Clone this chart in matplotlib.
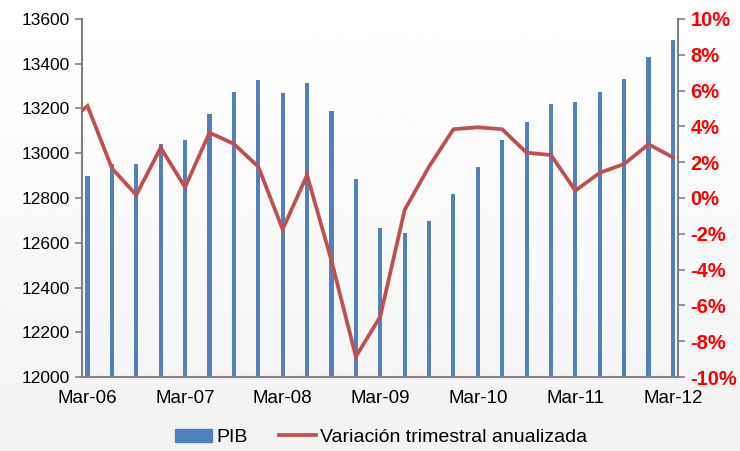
import numpy as np
import matplotlib
matplotlib.use("Agg")
import matplotlib.pyplot as plt
from matplotlib.patches import Patch
from matplotlib.lines import Line2D
from matplotlib.ticker import FuncFormatter

plt.rcParams['font.family'] = ['Liberation Sans', 'DejaVu Sans']

# quarterly data, Mar-06 .. Mar-12 (Dec-05 only for the line start)
quarters = ['Mar-06', 'Jun-06', 'Sep-06', 'Dec-06', 'Mar-07', 'Jun-07', 'Sep-07', 'Dec-07',
            'Mar-08', 'Jun-08', 'Sep-08', 'Dec-08', 'Mar-09', 'Jun-09', 'Sep-09', 'Dec-09',
            'Mar-10', 'Jun-10', 'Sep-10', 'Dec-10', 'Mar-11', 'Jun-11', 'Sep-11', 'Dec-11',
            'Mar-12']
pib = [12898, 12952, 12952, 13041, 13059, 13177, 13275, 13327,
       13268, 13313, 13187, 12886, 12666, 12645, 12697, 12817,
       12940, 13058, 13138, 13220, 13230, 13274, 13332, 13429,
       13505]
var_prev = 4.0   # Dec-05
var_anual = [5.14, 1.66, 0.17, 2.81, 0.6, 3.65, 3.02, 1.75,
             -1.75, 1.28, -3.5, -8.86, -6.63, -0.67, 1.75, 3.84,
             3.95, 3.84, 2.53, 2.40, 0.41, 1.41, 1.90, 3.0,
             2.27]

x = np.arange(len(quarters))

fig = plt.figure(figsize=(7.4, 4.51), dpi=100)

# light vertical gradient background
bg = fig.add_axes([0, 0, 1, 1], zorder=-10)
grad = np.linspace(0.95, 1.0, 256).reshape(-1, 1)
bg.imshow(grad, cmap='gray', vmin=0, vmax=1, aspect='auto', extent=[0, 1, 0, 1], origin='lower')
bg.axis('off')

ax = fig.add_axes([0.111, 0.164, 0.805, 0.794])
ax.patch.set_alpha(0)
ax.bar(x, pib, width=0.17, color='#4F81BD', zorder=2)
ax.set_ylim(12000, 13600)
ax.set_yticks(np.arange(12000, 13601, 200))
ax.set_xlim(-0.22, 24.2)
ax.set_xticks(x[::4])
ax.set_xticklabels(quarters[::4])

ax2 = ax.twinx()
ax2.plot(np.concatenate([[-1], x]), [var_prev] + var_anual, color='#C0504D', linewidth=2.7,
         solid_joinstyle='miter', zorder=3)
ax2.set_ylim(-10, 10)
ax2.set_yticks(np.arange(-10, 11, 2))
ax2.yaxis.set_major_formatter(FuncFormatter(lambda v, p: '{:d}%'.format(int(round(v)))))
ax2.set_xlim(-0.22, 24.2)

for a in (ax, ax2):
    a.spines['top'].set_visible(False)
    for s in ('left', 'right', 'bottom'):
        a.spines[s].set_color('#808080')
        a.spines[s].set_linewidth(1.5)

ax.spines['right'].set_visible(False)
ax2.spines['left'].set_visible(False)
ax2.spines['bottom'].set_visible(False)

ax.tick_params(axis='y', colors='#808080', labelcolor='black', labelsize=12.5, length=5, width=1.2)
ax.tick_params(axis='x', length=0, labelsize=13.5, pad=9)
ax2.tick_params(axis='y', colors='#808080', labelcolor='#FF0000', labelsize=14.5, length=5, width=1.2,
                pad=4)
for t in ax2.get_yticklabels():
    t.set_fontweight('bold')

handles = [Patch(color='#4F81BD'), Line2D([], [], color='#C0504D', linewidth=2.7)]
fig.legend(handles, ['PIB', 'Variación trimestral anualizada'], loc='center',
           bbox_to_anchor=(0.515, 0.03), ncol=2, frameon=False, fontsize=14,
           handlelength=1.9, handletextpad=0.2, columnspacing=1.6)

fig.savefig('out.png', dpi=100)
